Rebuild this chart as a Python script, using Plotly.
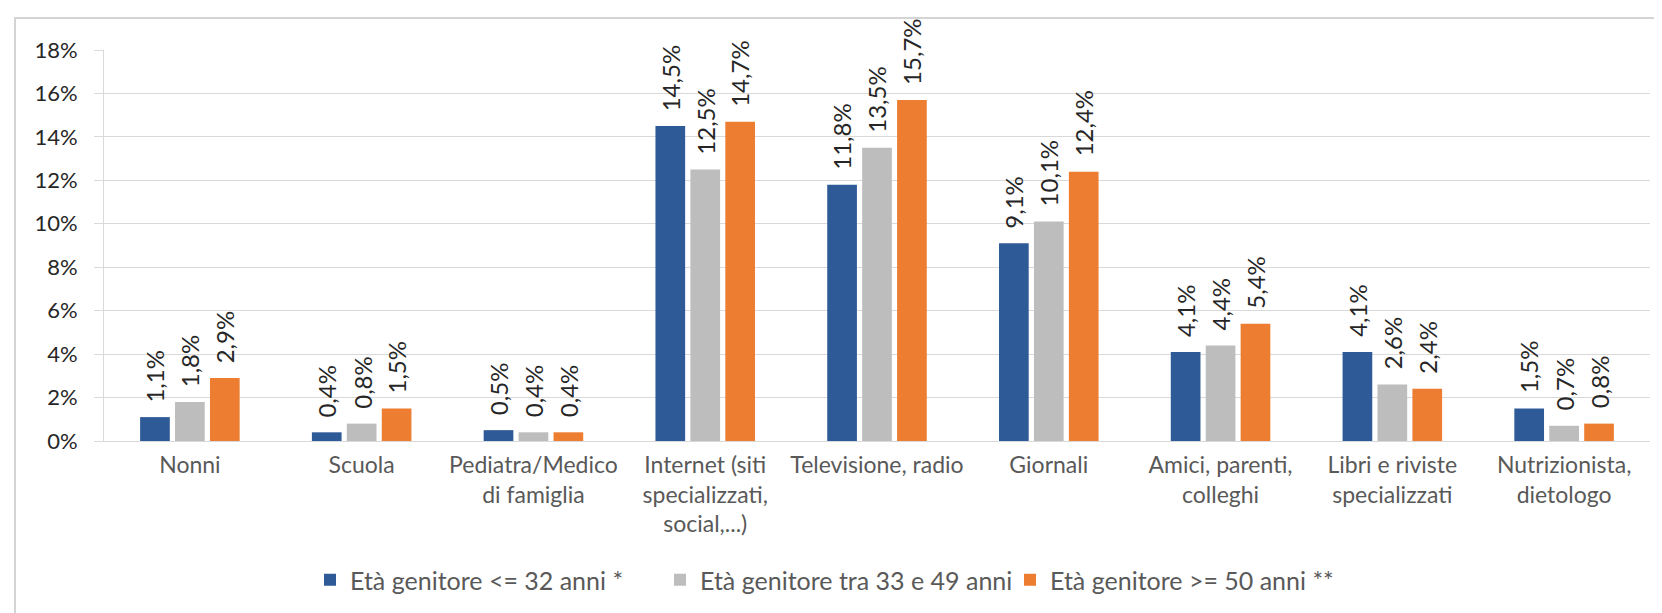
import plotly.graph_objects as go

categories = ["Nonni", "Scuola", "Pediatra/Medico<br>di famiglia",
              "Internet (siti<br>specializzati,<br>social,...)", "Televisione, radio",
              "Giornali", "Amici, parenti,<br>colleghi", "Libri e riviste<br>specializzati",
              "Nutrizionista,<br>dietologo"]
series_names = ["Età genitore <= 32 anni *", "Età genitore tra 33 e 49 anni",
                "Età genitore >= 50 anni **"]
v_le32 = [1.1, 0.4, 0.5, 14.5, 11.8, 9.1, 4.1, 4.1, 1.5]
v_33_49 = [1.8, 0.8, 0.4, 12.5, 13.5, 10.1, 4.4, 2.6, 0.7]
v_ge50 = [2.9, 1.5, 0.4, 14.7, 15.7, 12.4, 5.4, 2.4, 0.8]
tick_vals = [0, 2, 4, 6, 8, 10, 12, 14, 16, 18]
tick_text = ["0%", "2%", "4%", "6%", "8%", "10%", "12%", "14%", "16%", "18%"]

colors = ["#2E5A97", "#BDBDBD", "#ED7D31"]
all_series = [v_le32, v_33_49, v_ge50]

FONT = "Lato, 'Open Sans', sans-serif"
W, H = 1662, 613
L, R, T, B = 96, 20, 42, 180
pw = W - L - R
ph = H - T - B
bargap = 0.39
slot = pw / len(categories) * (1 - bargap) / 3

fig = go.Figure()
for name, vals, col in zip(series_names, all_series, colors):
    fig.add_trace(go.Bar(x=categories, y=vals, name=name, marker_color=col,
                         marker_line_width=0))

for i, vals in enumerate(all_series):
    for c, v in zip(categories, vals):
        fig.add_annotation(x=c, y=v, xref="x", yref="y", text=f"{v:.1f}%".replace(".", ","),
                           textangle=-90, showarrow=False, xanchor="center", yanchor="bottom",
                           xshift=(i - 1) * slot, yshift=13,
                           font=dict(family=FONT, size=24, color="#262626"))

def px_to_paper_x(px):
    return (px - L) / pw

def py_to_paper_y(py):
    return (H - B - py) / ph

# chart border
fig.add_shape(type="rect", xref="paper", yref="paper",
              x0=px_to_paper_x(7), x1=px_to_paper_x(1650),
              y0=py_to_paper_y(608), y1=py_to_paper_y(10),
              line=dict(color="#D4D4D4", width=2), fillcolor="rgba(0,0,0,0)", layer="below")

fig.update_layout(
    width=W, height=H,
    margin=dict(l=L, r=R, t=T, b=B, pad=0),
    paper_bgcolor="white", plot_bgcolor="white",
    barmode="group", bargap=bargap, bargroupgap=0.15,
    font=dict(family=FONT, color="#595959"),
    legend=dict(orientation="h", x=px_to_paper_x(302), xanchor="left",
                y=py_to_paper_y(572), yanchor="middle",
                font=dict(family=FONT, size=25, color="#595959"),
                entrywidth=305, bgcolor="rgba(0,0,0,0)"),
    showlegend=True,
)
fig.update_yaxes(range=[0, 18], tickvals=tick_vals, ticktext=tick_text,
                 showgrid=True, gridcolor="#D9D9D9", gridwidth=1,
                 showline=True, linecolor="#D9D9D9", linewidth=1,
                 ticks="outside", ticklen=9, tickcolor="#D9D9D9",
                 tickfont=dict(family=FONT, size=22, color="#262626"),
                 ticklabelstandoff=12, zeroline=False, fixedrange=True)
fig.update_xaxes(showline=True, linecolor="#D9D9D9", linewidth=1, ticks="",
                 tickfont=dict(family=FONT, size=23, color="#595959"),
                 ticklabelstandoff=3, fixedrange=True)

fig.write_html("out.html")
